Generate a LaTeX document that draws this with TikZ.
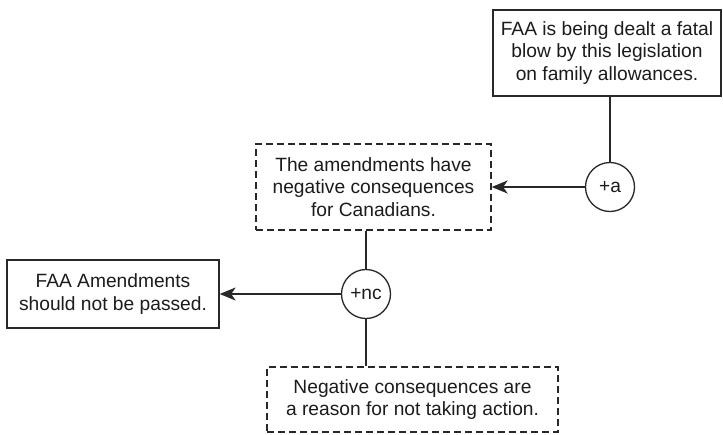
\documentclass[tikz,border=0pt]{standalone}
\usepackage{fontspec}
\setmainfont{Liberation Sans}
\usepackage{tikz}
\usetikzlibrary{arrows.meta,positioning}
\definecolor{ink}{RGB}{28,28,28}
\definecolor{wire}{RGB}{40,40,40}
\tikzset{
  >={Stealth[length=16pt,width=13pt,inset=4.5pt]},
  box/.style={draw=wire,line width=1.3pt,fill=white,align=center,text=ink,
    font=\fontsize{19.2}{22.7}\selectfont,inner sep=0pt,
    minimum width=#1,minimum height=86pt},
  box/.default=228pt,
  dashbox/.style={box=#1,dash pattern=on 7pt off 4pt},
  dashbox/.default=235pt,
  junction/.style={circle,draw=wire,line width=1.3pt,fill=white,text=ink,
    minimum size=49pt,inner sep=0pt,font=\fontsize{19.2}{22.7}\selectfont},
  link/.style={draw=wire,line width=1.3pt},
}
\begin{document}
\begin{tikzpicture}[x=1pt,y=-1pt]
  \useasboundingbox (0,0) rectangle (723,434);
  % claims and premises
  \node[box] (fatal) at (607,53) {FAA is being dealt a fatal\\blow by this legislation\\on family allowances.};
  \node[dashbox] (negative) at (373.5,187) {The amendments have\\negative consequences\\for Canadians.};
  \node[box=212pt,minimum height=68pt] (passed) at (113,294) {FAA Amendments\\should not be passed.};
  \node[dashbox=291pt,minimum height=65pt] (reason) at (412.5,399.5) {Negative consequences are\\a reason for not taking action.};
  % junctions
  \node[junction] (a) at (610,187) {+a};
  \node[junction] (nc) at (366,294) {+nc};
  % links
  \draw[link] (a.north |- fatal.south) -- (a);
  \draw[link,->] (a) -- (negative);
  \draw[link] (nc.north |- negative.south) -- (nc);
  \draw[link,->] (nc) -- (passed);
  \draw[link] (nc) -- (nc |- reason.north);
\end{tikzpicture}
\end{document}
